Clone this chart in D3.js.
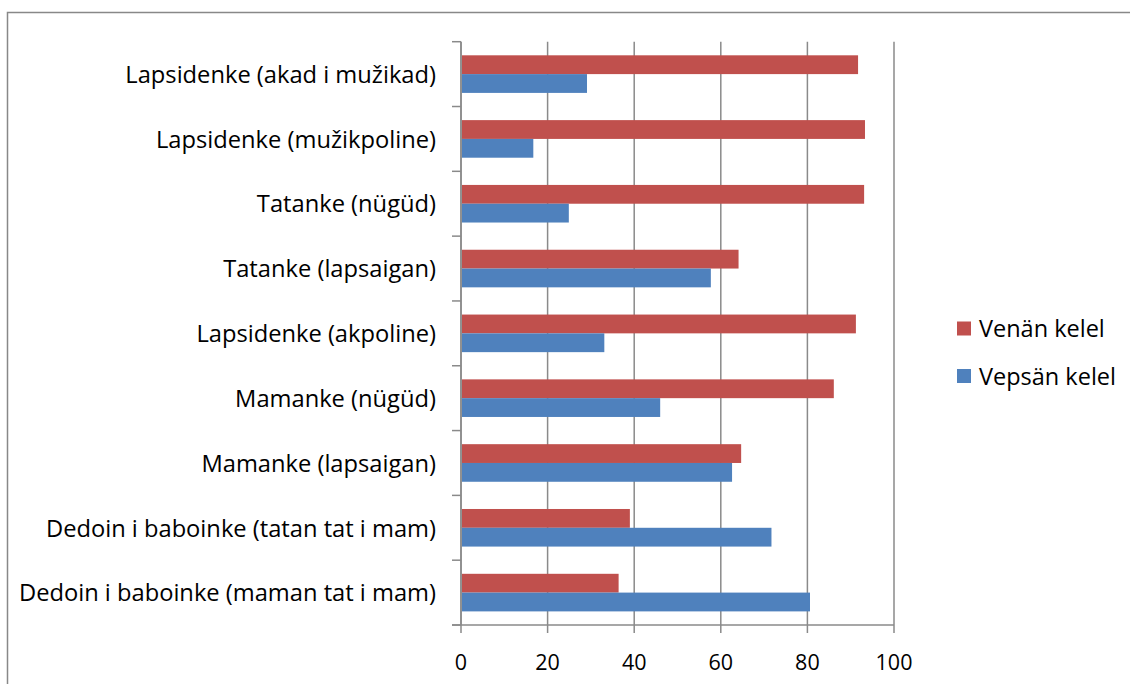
<!DOCTYPE html>
<html><head><meta charset="utf-8">
<script src="https://cdn.jsdelivr.net/npm/d3@7"></script>
<style>html,body{margin:0;padding:0;background:#fff;overflow:hidden}</style>
</head><body>
<script>
const categories = [
  "Lapsidenke (akad i mužikad)",
  "Lapsidenke (mužikpoline)",
  "Tatanke (nügüd)",
  "Tatanke (lapsaigan)",
  "Lapsidenke (akpoline)",
  "Mamanke (nügüd)",
  "Mamanke (lapsaigan)",
  "Dedoin i baboinke (tatan tat i mam)",
  "Dedoin i baboinke (maman tat i mam)"
];
const seriesNames = ["Venän kelel", "Vepsän kelel"];
const venan = [91.7, 93.3, 93.1, 64.1, 91.2, 86.1, 64.7, 39.0, 36.4];
const vepsan = [29.1, 16.7, 24.9, 57.7, 33.1, 46.0, 62.6, 71.7, 80.6];
const xTicks = [0, 20, 40, 60, 80, 100];
const colors = ["#C0504D", "#4F81BD"];

(function () {
const W = 1130, H = 684;
const svg = d3.select("body").append("svg").attr("width", W).attr("height", H);
const font = "'Open Sans', sans-serif";

svg.append("rect").attr("x", 7.5).attr("y", 12.5).attr("width", W + 10).attr("height", H + 10)
  .attr("fill", "none").attr("stroke", "#888").attr("stroke-width", 1.5);

const pLeft = 461, pRight = 894, pTop = 41.7, pBottom = 625;
const x = d3.scaleLinear().domain([0, 100]).range([pLeft, pRight]);
const y = d3.scaleBand().domain(categories).range([pTop, pBottom]).paddingInner(0.42).paddingOuter(0.21);
const sub = d3.scaleBand().domain(seriesNames).range([0, y.bandwidth()]);

const grid = "#8a8a8a";
svg.append("g").selectAll("line").data(xTicks).join("line")
  .attr("x1", d => x(d)).attr("x2", d => x(d)).attr("y1", pTop).attr("y2", pBottom + 8)
  .attr("stroke", grid).attr("stroke-width", 1.5);

svg.append("line").attr("x1", pLeft).attr("x2", pLeft).attr("y1", pTop).attr("y2", pBottom)
  .attr("stroke", grid).attr("stroke-width", 1.5);
const bandStep = (pBottom - pTop) / categories.length;
svg.append("g").selectAll("line").data(d3.range(categories.length + 1)).join("line")
  .attr("x1", pLeft - 9).attr("x2", pLeft).attr("y1", i => pTop + i * bandStep).attr("y2", i => pTop + i * bandStep)
  .attr("stroke", grid).attr("stroke-width", 1.5);
svg.append("line").attr("x1", pLeft - 9).attr("x2", pRight).attr("y1", pBottom).attr("y2", pBottom)
  .attr("stroke", grid).attr("stroke-width", 1.5);

const data = categories.map((c, i) => ({c, vals: [venan[i], vepsan[i]]}));
const g = svg.append("g").selectAll("g").data(data).join("g")
  .attr("transform", d => `translate(0,${y(d.c)})`);
g.selectAll("rect").data(d => d.vals.map((v, k) => ({v, k}))).join("rect")
  .attr("x", x(0) + 1).attr("y", d => sub(seriesNames[d.k]))
  .attr("width", d => x(d.v) - x(0) - 1).attr("height", sub.bandwidth())
  .attr("fill", d => colors[d.k]);

svg.append("g").selectAll("text").data(categories).join("text")
  .attr("x", 436).attr("y", d => y(d) + y.bandwidth() / 2)
  .attr("dy", "0.37em").attr("text-anchor", "end")
  .attr("font-family", font).attr("font-size", 23.7).attr("fill", "#000")
  .text(d => d);

svg.append("g").selectAll("text").data(xTicks).join("text")
  .attr("x", d => x(d)).attr("y", 670).attr("text-anchor", "middle")
  .attr("font-family", font).attr("font-size", 21.5).attr("fill", "#000")
  .text(d => d);

const lg = svg.append("g").selectAll("g").data(seriesNames).join("g")
  .attr("transform", (d, i) => `translate(957,${321.5 + i * 47.5})`);
lg.append("rect").attr("width", 14).attr("height", 14).attr("fill", (d, i) => colors[i]);
lg.append("text").attr("x", 22).attr("y", 7).attr("dy", "0.37em")
  .attr("font-family", font).attr("font-size", 23.5).attr("fill", "#000").text(d => d);
})();
</script>
</body></html>
